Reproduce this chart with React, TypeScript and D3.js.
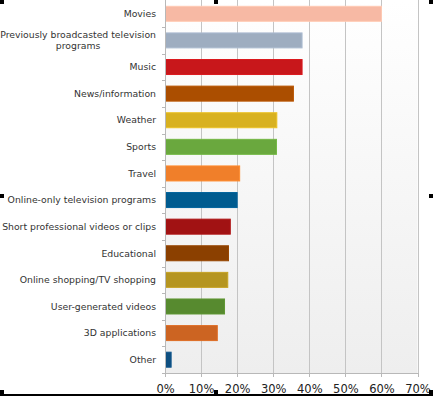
import React, { useEffect, useRef } from "react";
import * as d3 from "d3";

const categories = [
  "Movies",
  "Previously broadcasted television programs",
  "Music",
  "News/information",
  "Weather",
  "Sports",
  "Travel",
  "Online-only television programs",
  "Short professional videos or clips",
  "Educational",
  "Online shopping/TV shopping",
  "User-generated videos",
  "3D applications",
  "Other",
];
const values = [60, 38, 38, 35.6, 31, 30.9, 20.7, 20, 18.1, 17.6, 17.4, 16.5, 14.5, 1.7];
const colors = [
  "#f7b9a4", "#9eadc0", "#c8171b", "#ab4e00", "#d8b120", "#6aa83e", "#f07f2a",
  "#005b8f", "#a11213", "#8b4000", "#b59520", "#578a2f", "#cc6422", "#0e4f80",
];
const tickValues = [0, 10, 20, 30, 40, 50, 60, 70];

export default function App() {
  const ref = useRef<SVGSVGElement>(null);
  useEffect(() => {
    const svg = d3.select(ref.current);
    svg.selectAll("*").remove();
    const W = 433, H = 396;
    const left = 165, right = 417.5, top = 0.5, bottom = 373;
    const x = d3.scaleLinear().domain([0, 70]).range([left, right]);
    const y = d3.scaleBand<string>().domain(categories).range([top, bottom]).paddingInner(0.436).paddingOuter(0.218);
    const step = y.step();

    const defs = svg.append("defs");
    const grad = defs.append("linearGradient").attr("id", "bg").attr("x1", 0).attr("y1", 0).attr("x2", 0).attr("y2", 1);
    grad.append("stop").attr("offset", "0%").attr("stop-color", "#ffffff");
    grad.append("stop").attr("offset", "100%").attr("stop-color", "#eeeeee");

    svg.append("rect").attr("width", W).attr("height", H).attr("fill", "#ffffff");
    svg.append("rect").attr("x", left).attr("y", top).attr("width", right - left).attr("height", bottom - top).attr("fill", "url(#bg)");

    // gridlines
    svg.append("g").selectAll("line").data(tickValues.slice(1)).join("line")
      .attr("x1", (d) => Math.round(x(d)) + 0.5).attr("x2", (d) => Math.round(x(d)) + 0.5)
      .attr("y1", 0).attr("y2", bottom)
      .attr("stroke", "#c4c4c4").attr("stroke-width", 1);

    // bars
    svg.append("g").selectAll("rect").data(categories).join("rect")
      .attr("x", left + 0.5)
      .attr("y", (d) => (y(d) as number))
      .attr("width", (d, i) => x(values[i]) - left - 0.5)
      .attr("height", y.bandwidth())
      .attr("fill", (d, i) => colors[i])
      .attr("stroke", (d, i) => (d3.color(colors[i]) as any).brighter(0.25).toString())
      .attr("stroke-width", 1);

    // left axis
    const ax = svg.append("g");
    ax.append("line").attr("x1", left + 0.5).attr("x2", left + 0.5).attr("y1", 0).attr("y2", bottom + 3)
      .attr("stroke", "#b8b8b8");
    ax.selectAll("line.t").data(d3.range(1, categories.length + 1)).join("line").attr("class", "t")
      .attr("x1", left - 3).attr("x2", left)
      .attr("y1", (d) => Math.round(top + d * step) + 0.5).attr("y2", (d) => Math.round(top + d * step) + 0.5)
      .attr("stroke", "#b8b8b8");
    // bottom axis
    ax.append("line").attr("x1", left).attr("x2", right + 0.5).attr("y1", bottom + 0.5).attr("y2", bottom + 0.5)
      .attr("stroke", "#b8b8b8");
    ax.selectAll("line.b").data(tickValues).join("line").attr("class", "b")
      .attr("x1", (d) => Math.round(x(d)) + 0.5).attr("x2", (d) => Math.round(x(d)) + 0.5)
      .attr("y1", bottom).attr("y2", bottom + 4)
      .attr("stroke", "#b8b8b8");

    // tick labels
    svg.append("g").selectAll("text").data(tickValues).join("text")
      .attr("x", (d) => x(d) + 0.5).attr("y", 393)
      .attr("text-anchor", "middle")
      .attr("font-family", "DejaVu Sans, Verdana, sans-serif").attr("font-size", 11.5)
      .attr("fill", "#222")
      .text((d) => d + "%");

    // category labels
    const lab = svg.append("g").attr("font-family", "DejaVu Sans, Verdana, sans-serif").attr("font-size", 9.3).attr("fill", "#333");
    const labelRight = 156;
    categories.forEach((c) => {
      const cy = (y(c) as number) + y.bandwidth() / 2;
      if (c === "Previously broadcasted television programs") {
        const l1 = lab.append("text").attr("x", labelRight).attr("y", cy - 5.2).attr("dy", "0.35em").attr("text-anchor", "end")
          .text("Previously broadcasted television");
        const w = (l1.node() as SVGTextElement).getComputedTextLength();
        lab.append("text").attr("x", labelRight - w / 2).attr("y", cy + 5.2).attr("dy", "0.35em").attr("text-anchor", "middle")
          .text("programs");
      } else {
        lab.append("text").attr("x", labelRight).attr("y", cy).attr("dy", "0.35em").attr("text-anchor", "end").text(c);
      }
    });

    // selection frame marks
    svg.append("rect").attr("x", 0).attr("y", 394).attr("width", W).attr("height", 2).attr("fill", "#000");
    const handles = [[0, 0], [214, 0], [429, 0], [0, 194], [429, 194], [0, 390], [214, 390], [429, 390]];
    svg.append("g").selectAll("rect").data(handles).join("rect")
      .attr("x", (d) => d[0]).attr("y", (d) => d[1]).attr("width", 4).attr("height", 4).attr("fill", "#000");
  }, []);
  return <svg ref={ref} width={433} height={396} style={{ position: "absolute", left: 0, top: 0 }} />;
}
